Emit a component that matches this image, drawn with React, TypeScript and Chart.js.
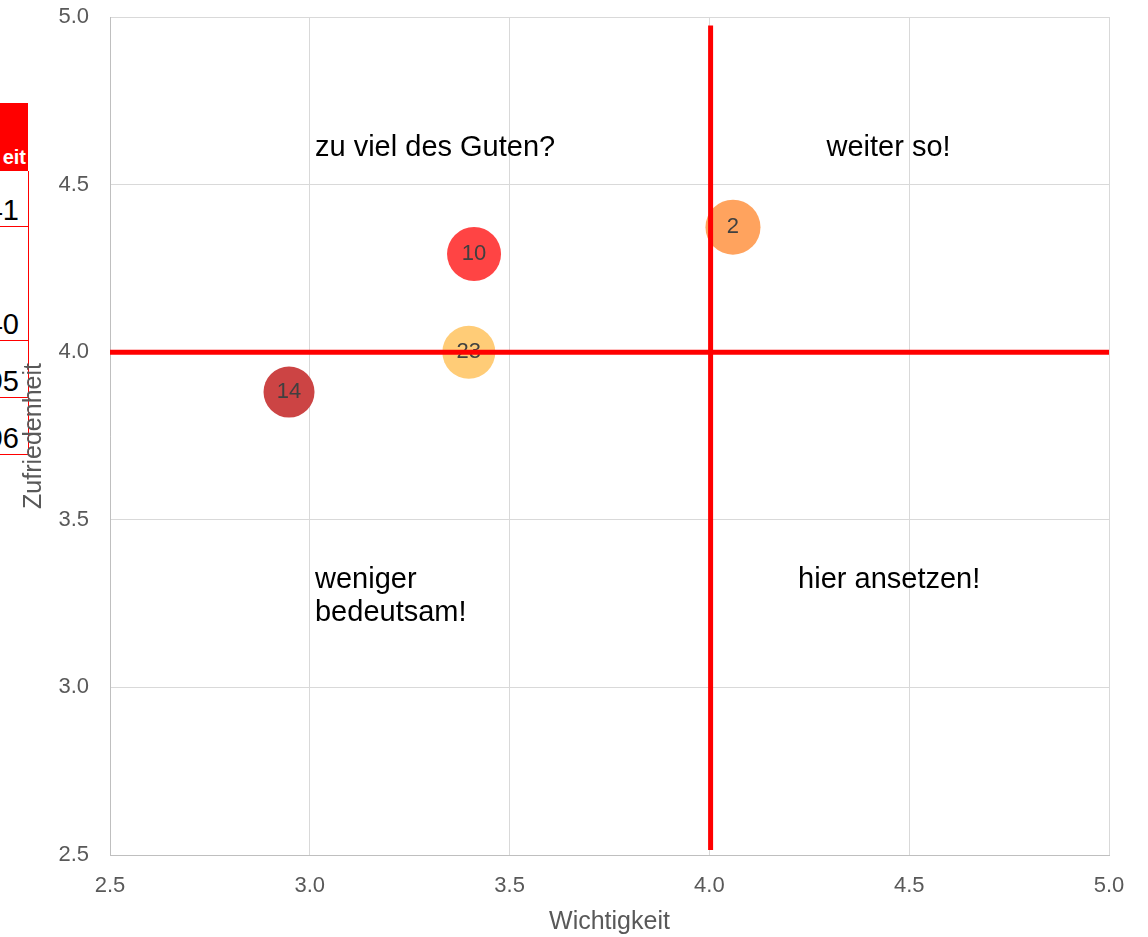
import React, { useEffect, useRef } from 'react';
import { Chart, registerables } from 'chart.js';

Chart.register(...registerables);

// ---- data ----
const bubbleLabels = ['2', '10', '23', '14'];
const importance = [4.059, 3.411, 3.398, 2.948];
const satisfaction = [4.373, 4.293, 4.0, 3.881];
const bubbleSizes = [27.5, 27, 26.5, 25.5];
const bubbleColors = ['#FFA35E', '#FF4444', '#FFCC77', '#CC4444'];

const hLineX = [2.5, 5.0];
const hLineY = [4.0, 4.0];
const vLineX = [4.003, 4.003];
const vLineY = [2.515, 4.975];

const axisMin = 2.5;
const axisMax = 5.0;
const axisStep = 0.5;

const quadrantTexts = ['zu viel des Guten?', 'weiter so!', 'weniger\nbedeutsam!', 'hier ansetzen!'];
const quadrantX = [3.013, 4.293, 3.013, 4.222];
const quadrantY = [4.585, 4.585, 3.297, 3.297];

const xTitle = 'Wichtigkeit';
const yTitle = 'Zufriedenheit';

const tableHeader = 'eit';
const tableValues = ['41', '40', '95', '96'];

const FONT = '"Liberation Sans", Arial, sans-serif';

export default function App() {
  const ref = useRef<HTMLCanvasElement | null>(null);

  useEffect(() => {
    if (!ref.current) return;
    const labelPlugin = {
      id: 'bubbleLabels',
      afterDatasetDraw(chart: any, args: any) {
        if (args.index !== 2) return;
        const ctx = chart.ctx;
        ctx.save();
        ctx.font = `22px ${FONT}`;
        ctx.fillStyle = '#404040';
        ctx.textAlign = 'center';
        ctx.textBaseline = 'middle';
        args.meta.data.forEach((el: any, i: number) => {
          ctx.fillText(bubbleLabels[i], el.x, el.y);
        });
        ctx.restore();
      },
    };
    const quadrantPlugin = {
      id: 'quadrantTexts',
      beforeDatasetsDraw(chart: any) {
        const ctx = chart.ctx;
        const xs = chart.scales.x;
        const ys = chart.scales.y;
        ctx.save();
        ctx.font = `29px ${FONT}`;
        ctx.fillStyle = '#000000';
        ctx.textAlign = 'left';
        ctx.textBaseline = 'alphabetic';
        quadrantTexts.forEach((t, i) => {
          const px = xs.getPixelForValue(quadrantX[i]);
          const py = ys.getPixelForValue(quadrantY[i]);
          t.split('\n').forEach((line, j) => ctx.fillText(line, px, py + j * 33));
        });
        ctx.restore();
      },
    };

    const chart = new Chart(ref.current, {
      type: 'bubble',
      data: {
        datasets: [
          {
            type: 'line',
            data: hLineX.map((x, i) => ({ x, y: hLineY[i] })),
            borderColor: '#FF0000',
            borderWidth: 5,
            borderCapStyle: 'square',
            pointRadius: 0,
            fill: false,
          } as any,
          {
            type: 'line',
            data: vLineX.map((x, i) => ({ x, y: vLineY[i] })),
            borderColor: '#FF0000',
            borderWidth: 5,
            borderCapStyle: 'butt',
            pointRadius: 0,
            fill: false,
          } as any,
          {
            type: 'bubble',
            data: importance.map((x, i) => ({ x, y: satisfaction[i], r: bubbleSizes[i] })),
            backgroundColor: bubbleColors,
            borderWidth: 0,
            hoverRadius: 0,
          } as any,
        ],
      },
      options: {
        animation: false,
        responsive: false,
        events: [],
        layout: { autoPadding: false, padding: { top: 0, right: 39, left: 0, bottom: 0 } },
        plugins: { legend: { display: false }, tooltip: { enabled: false } },
        scales: {
          x: {
            type: 'linear',
            min: axisMin,
            max: axisMax,
            afterFit: (s: any) => { s.height = 82; },
            ticks: {
              stepSize: axisStep,
              padding: 18,
              color: '#595959',
              font: { family: FONT, size: 22 },
              callback: (v: any) => Number(v).toFixed(1),
            },
            grid: { color: '#D9D9D9', lineWidth: 1, drawTicks: false },
            border: { color: '#BFBFBF', width: 1 },
            title: {
              display: true,
              text: xTitle,
              color: '#595959',
              font: { family: FONT, size: 25 },
              padding: { top: 0, bottom: 0 },
            },
          },
          y: {
            type: 'linear',
            min: axisMin,
            max: axisMax,
            afterFit: (s: any) => { s.width = 110; s.paddingTop = 17; s.paddingBottom = 13; },
            ticks: {
              stepSize: axisStep,
              padding: 21,
              color: '#595959',
              font: { family: FONT, size: 22 },
              callback: (v: any) => Number(v).toFixed(1),
            },
            grid: { color: '#D9D9D9', lineWidth: 1, drawTicks: false },
            border: { color: '#BFBFBF', width: 1 },
            title: {
              display: true,
              text: yTitle,
              color: '#595959',
              font: { family: FONT, size: 25 },
              padding: { top: 19, bottom: 0 },
            },
          },
        },
      },
      plugins: [labelPlugin, quadrantPlugin],
    } as any);
    return () => chart.destroy();
  }, []);

  const rowTops = [171, 227, 341, 398];
  const rowBottoms = [227, 341, 398, 455];

  return (
    <div style={{ position: 'absolute', left: 0, top: 0, width: 1148, height: 937, background: '#fff', overflow: 'hidden' }}>
      <div
        style={{
          position: 'absolute', left: 0, top: 103, width: 28, height: 68,
          background: '#FF0000', overflow: 'hidden',
        }}
      >
        <span
          style={{
            position: 'absolute', right: 2, top: 44, font: `bold 20px/20px ${FONT}`,
            color: '#fff', whiteSpace: 'nowrap',
          }}
        >{tableHeader}</span>
      </div>
      {tableValues.map((v, i) => (
        <div
          key={i}
          style={{
            position: 'absolute', left: -2, top: rowTops[i], width: 29,
            height: rowBottoms[i] - rowTops[i] - 1,
            borderRight: '1px solid #FF0000', borderBottom: '1px solid #FF0000',
            borderLeft: '1px solid #FF0000',
            overflow: 'hidden',
          }}
        >
          <span
            style={{
              position: 'absolute', right: 9, bottom: 1, font: `29px/29px ${FONT}`,
              color: '#000', whiteSpace: 'nowrap',
            }}
          >{v}</span>
        </div>
      ))}
      <canvas
        ref={ref}
        width={1148}
        height={937}
        style={{ position: 'absolute', left: 0, top: 0, display: 'block' }}
      />
    </div>
  );
}
